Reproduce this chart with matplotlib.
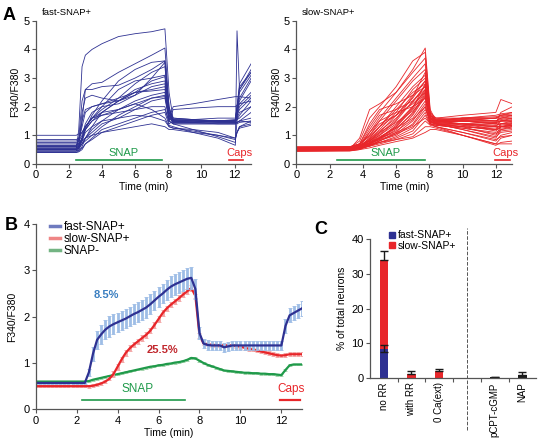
import numpy as np
import matplotlib
matplotlib.use('Agg')
import matplotlib.pyplot as plt
from matplotlib.lines import Line2D

plt.rcParams['font.family'] = ['Liberation Sans', 'DejaVu Sans']
plt.rcParams['axes.linewidth'] = 0.9
plt.rcParams['axes.edgecolor'] = '#555555'
plt.rcParams['xtick.color'] = '#555555'
plt.rcParams['ytick.color'] = '#555555'
plt.rcParams['xtick.labelcolor'] = 'black'
plt.rcParams['ytick.labelcolor'] = 'black'
plt.rcParams['xtick.major.size'] = 3
plt.rcParams['ytick.major.size'] = 3

BLUE, RED, GREEN = '#2e3192', '#e8262a', '#1f9a4a'

# ---------------- Panel A: single-cell traces ----------------
# fast-SNAP+ cells, values at knot times
fast_knots = [0, 2.45, 2.6, 2.8, 3.0, 3.4, 4.0, 5.0, 6.0, 7.0, 7.8, 8.05, 8.3, 9.5, 11.0, 12.05, 12.15, 12.3, 13.0]
fast_cells = [
    [0.50, 0.50, 1.2, 3.4, 3.8, 4.0, 4.2, 4.45, 4.55, 4.62, 4.72, 2.5, 1.55, 1.55, 1.5, 1.45, 1.45, 1.5, 1.45],
    [0.45, 0.45, 0.6, 1.5, 2.6, 2.8, 2.85, 3.2, 3.5, 3.8, 4.05, 2.0, 1.5, 1.5, 1.5, 1.5, 2.0, 2.8, 3.5],
    [0.55, 0.55, 0.9, 2.2, 2.6, 2.6, 2.7, 2.75, 3.0, 3.3, 3.6, 2.0, 1.45, 1.45, 1.5, 1.5, 2.0, 2.7, 3.2],
    [0.60, 0.60, 0.7, 1.8, 2.3, 2.4, 2.3, 2.2, 2.4, 3.0, 3.55, 1.8, 1.5, 1.5, 1.5, 1.55, 2.0, 2.5, 3.1],
    [0.65, 0.65, 0.8, 1.5, 1.9, 2.0, 2.1, 2.3, 2.8, 3.2, 3.4, 1.9, 1.6, 1.55, 1.6, 1.6, 1.9, 2.3, 3.0],
    [1.00, 1.00, 1.05, 1.1, 1.3, 1.6, 2.0, 2.6, 2.9, 3.0, 3.1, 1.7, 1.5, 1.5, 1.5, 1.5, 1.8, 2.2, 2.9],
    [0.40, 0.40, 0.45, 0.6, 0.9, 1.3, 1.8, 2.2, 2.6, 2.8, 2.9, 1.8, 1.6, 1.55, 1.5, 1.5, 1.8, 2.1, 2.5],
    [0.75, 0.75, 0.8, 1.0, 1.4, 1.8, 2.0, 2.1, 2.4, 2.7, 2.8, 1.6, 1.45, 1.45, 1.45, 1.45, 1.7, 1.9, 2.3],
    [0.55, 0.55, 0.6, 0.9, 1.2, 1.5, 1.8, 2.2, 2.5, 2.6, 2.7, 1.7, 1.4, 1.4, 1.4, 1.4, 1.55, 1.7, 2.2],
    [0.85, 0.85, 0.9, 1.1, 1.3, 1.6, 1.9, 2.3, 2.5, 2.55, 2.6, 1.6, 1.5, 1.45, 1.5, 1.5, 1.55, 1.6, 2.0],
    [0.45, 0.45, 0.5, 0.7, 0.9, 1.2, 1.5, 1.9, 2.2, 2.4, 2.5, 1.5, 1.4, 1.4, 1.4, 1.4, 1.45, 1.5, 1.8],
    [0.50, 0.50, 0.55, 0.7, 0.8, 1.0, 1.3, 1.7, 2.0, 2.3, 2.4, 1.7, 1.5, 1.5, 1.45, 1.45, 1.45, 1.5, 1.6],
    [0.70, 0.70, 0.7, 0.9, 1.2, 1.5, 1.7, 1.9, 2.1, 2.3, 2.35, 1.6, 2.0, 2.1, 2.25, 2.35, 2.35, 2.35, 2.3],
    [0.60, 0.60, 0.62, 0.7, 0.9, 1.1, 1.4, 1.6, 1.9, 2.2, 2.3, 1.5, 1.9, 1.95, 2.0, 2.0, 2.05, 2.1, 2.2],
    [0.50, 0.50, 0.55, 0.9, 1.3, 1.6, 1.7, 1.8, 1.9, 2.0, 2.0, 1.4, 1.5, 1.45, 1.4, 1.4, 1.4, 1.45, 1.5],
    [0.40, 0.40, 0.42, 0.5, 0.7, 0.9, 1.2, 1.4, 1.6, 1.8, 1.9, 1.5, 1.4, 1.2, 0.95, 0.75, 1.5, 2.6, 3.3],
    [0.45, 0.45, 0.47, 0.55, 0.7, 0.85, 1.1, 1.3, 1.5, 1.7, 1.8, 1.35, 1.3, 1.1, 0.9, 0.65, 4.65, 2.6, 3.2],
    [0.55, 0.55, 0.6, 0.8, 1.1, 1.3, 1.5, 1.6, 1.7, 1.65, 1.5, 1.3, 1.25, 1.2, 1.1, 0.9, 1.1, 1.3, 1.5],
    [0.60, 0.60, 0.65, 0.9, 1.3, 1.6, 1.8, 1.9, 2.1, 1.9, 1.6, 1.3, 1.25, 1.15, 1.0, 0.85, 1.1, 1.3, 1.4],
    [0.65, 0.65, 0.7, 0.8, 0.9, 1.0, 1.1, 1.2, 1.3, 1.4, 1.3, 1.2, 1.2, 1.1, 1.0, 0.9, 1.1, 1.25, 1.35],
    [0.50, 0.50, 0.55, 0.8, 1.2, 1.7, 2.2, 2.9, 3.3, 3.55, 3.6, 1.7, 1.5, 1.5, 1.5, 1.5, 1.7, 2.0, 2.4],
    [0.80, 0.80, 0.85, 1.3, 1.8, 2.0, 2.1, 2.2, 2.5, 2.9, 3.05, 1.8, 1.55, 1.5, 1.5, 1.5, 1.6, 1.8, 2.0],
]

# slow-SNAP+ cells, values at knot times
slow_knots = [0, 3.2, 3.8, 4.4, 5.0, 6.0, 7.0, 7.75, 8.05, 8.4, 10.0, 12.0, 12.3, 13.0]
slow_cells = [
    [0.50, 0.52, 0.9, 1.9, 2.1, 2.5, 3.3, 4.05, 1.9, 1.5, 1.5, 1.4, 1.5, 1.5],
    [0.55, 0.56, 0.8, 1.6, 2.0, 2.7, 3.6, 3.9, 1.8, 1.6, 1.6, 1.5, 1.6, 1.7],
    [0.48, 0.50, 0.7, 1.3, 1.8, 2.5, 3.2, 3.7, 1.7, 1.5, 1.5, 1.4, 1.8, 2.0],
    [0.52, 0.53, 0.65, 1.1, 1.6, 2.3, 3.0, 3.5, 1.6, 1.6, 1.7, 1.8, 2.25, 2.1],
    [0.60, 0.60, 0.7, 1.0, 1.5, 2.2, 2.9, 3.3, 1.8, 1.5, 1.6, 1.6, 1.7, 1.8],
    [0.45, 0.47, 0.6, 0.9, 1.3, 2.0, 2.7, 3.1, 1.7, 1.4, 1.4, 1.3, 1.5, 1.6],
    [0.50, 0.52, 0.6, 0.85, 1.2, 1.8, 2.6, 3.0, 1.6, 1.5, 1.4, 1.2, 1.4, 1.5],
    [0.55, 0.56, 0.65, 0.8, 1.1, 1.7, 2.4, 2.9, 1.6, 1.4, 1.3, 1.0, 1.3, 1.4],
    [0.58, 0.60, 0.70, 0.95, 1.3, 1.9, 2.5, 2.8, 1.7, 1.5, 1.5, 1.5, 1.6, 1.6],
    [0.47, 0.48, 0.55, 0.75, 1.0, 1.5, 2.2, 2.7, 1.6, 1.4, 1.2, 0.9, 1.2, 1.3],
    [0.53, 0.54, 0.6, 0.8, 1.0, 1.4, 2.0, 2.6, 1.5, 1.35, 1.3, 1.2, 1.3, 1.35],
    [0.50, 0.50, 0.58, 0.7, 0.9, 1.3, 1.9, 2.5, 1.5, 1.4, 1.4, 1.35, 1.4, 1.4],
    [0.56, 0.57, 0.62, 0.72, 0.85, 1.2, 1.8, 2.45, 1.6, 1.45, 1.5, 1.6, 1.7, 1.7],
    [0.44, 0.45, 0.50, 0.65, 0.8, 1.1, 1.7, 2.35, 1.4, 1.3, 1.1, 0.8, 1.0, 1.1],
    [0.52, 0.52, 0.65, 1.2, 1.7, 1.9, 2.2, 2.6, 1.6, 1.5, 1.5, 1.4, 1.4, 1.4],
    [0.49, 0.50, 0.60, 1.1, 1.5, 1.8, 2.0, 2.3, 1.7, 1.55, 1.55, 1.5, 1.5, 1.55],
    [0.57, 0.58, 0.70, 1.0, 1.4, 1.7, 2.1, 2.5, 1.5, 1.5, 1.4, 1.3, 1.3, 1.35],
    [0.54, 0.55, 0.6, 0.75, 0.95, 1.25, 1.6, 2.2, 1.5, 1.4, 1.4, 1.45, 1.5, 1.5],
    [0.46, 0.47, 0.52, 0.62, 0.8, 1.05, 1.5, 2.1, 1.4, 1.3, 1.0, 0.7, 0.9, 1.0],
    [0.51, 0.52, 0.56, 0.66, 0.82, 1.0, 1.4, 2.0, 1.45, 1.45, 1.5, 1.5, 1.55, 1.6],
    [0.59, 0.60, 0.66, 0.78, 0.9, 1.1, 1.35, 1.9, 1.5, 1.5, 1.6, 1.7, 1.75, 1.8],
    [0.48, 0.49, 0.54, 0.62, 0.75, 0.95, 1.25, 1.8, 1.4, 1.35, 1.25, 1.1, 1.2, 1.25],
    [0.53, 0.54, 0.58, 0.65, 0.75, 0.9, 1.15, 1.7, 1.4, 1.4, 1.3, 1.2, 1.25, 1.3],
    [0.50, 0.51, 0.55, 0.62, 0.7, 0.85, 1.05, 1.5, 1.35, 1.3, 1.1, 0.85, 0.95, 1.0],
    [0.55, 0.56, 0.60, 0.68, 0.75, 0.85, 0.95, 1.3, 1.3, 1.25, 1.0, 0.65, 0.75, 0.8],
    [0.45, 0.46, 0.50, 0.56, 0.65, 0.78, 0.9, 1.1, 1.2, 1.2, 1.0, 0.7, 0.7, 0.7],
    [0.52, 0.53, 0.62, 0.9, 1.3, 1.7, 2.3, 2.9, 1.6, 1.5, 1.55, 1.6, 1.65, 1.7],
    [0.50, 0.51, 0.7, 1.4, 1.9, 2.1, 2.4, 2.7, 1.7, 1.6, 1.5, 1.45, 1.5, 1.5],
    [0.56, 0.57, 0.64, 0.85, 1.15, 1.6, 2.15, 2.75, 1.55, 1.45, 1.4, 1.35, 1.4, 1.45],
    [0.48, 0.49, 0.56, 0.7, 0.9, 1.35, 2.0, 2.55, 1.5, 1.4, 1.2, 0.95, 1.1, 1.15],
    [0.54, 0.55, 0.62, 0.8, 1.05, 1.55, 2.35, 3.2, 1.7, 1.55, 1.6, 1.6, 1.6, 1.65],
    [0.51, 0.52, 0.58, 0.72, 0.92, 1.3, 1.95, 2.8, 1.6, 1.5, 1.35, 1.15, 1.3, 1.35],
    [0.47, 0.48, 0.54, 0.68, 0.88, 1.25, 1.75, 2.4, 1.5, 1.4, 1.3, 1.25, 1.35, 1.4],
    [0.57, 0.58, 0.63, 0.74, 0.9, 1.15, 1.55, 2.0, 1.45, 1.4, 1.35, 1.3, 1.3, 1.3],
    [0.50, 0.51, 0.60, 0.82, 1.1, 1.45, 1.85, 2.3, 1.55, 1.5, 1.6, 1.65, 1.7, 1.75],
    [0.53, 0.54, 0.59, 0.70, 0.85, 1.05, 1.3, 1.6, 1.4, 1.35, 1.25, 1.05, 1.15, 1.2],
]

# ---------------- Panel B: mean +/- SEM ----------------
t_mean = np.round(np.arange(0, 13.01, 0.2), 1)
fast_mean = [0.57] * 13 + [
    0.80, 1.20, 1.50, 1.62, 1.72, 1.79, 1.84, 1.88, 1.92, 1.96, 2.01, 2.06, 2.10,
    2.15, 2.20, 2.27, 2.35, 2.43, 2.50, 2.58, 2.65, 2.70, 2.74, 2.78, 2.82, 2.84,
    2.60, 1.65, 1.42, 1.39, 1.38, 1.38, 1.38, 1.34, 1.36, 1.38,
    1.38, 1.38, 1.38, 1.38, 1.38, 1.38, 1.38, 1.38, 1.38, 1.38, 1.38, 1.38,
    1.80, 2.03, 2.08, 2.13, 2.18]
fast_err = [0.03] * 13 + [0.08, 0.15] + [
    0.20, 0.21, 0.21, 0.22, 0.21, 0.20, 0.20, 0.20, 0.21, 0.21, 0.22, 0.22,
    0.22, 0.22, 0.21, 0.21, 0.21, 0.22, 0.22, 0.22, 0.22, 0.23, 0.23, 0.23,
    0.22, 0.12] + [0.10] * 20 + [0.15, 0.15, 0.15, 0.15, 0.16]
slow_mean = [0.50] * 13 + [
    0.50, 0.51, 0.53, 0.56, 0.60, 0.66, 0.76, 0.92, 1.08, 1.22, 1.32, 1.40, 1.47,
    1.54, 1.61, 1.70, 1.82, 1.95, 2.08, 2.18, 2.26, 2.33, 2.40, 2.48, 2.55, 2.62,
    2.45, 1.60, 1.42, 1.40, 1.39, 1.38, 1.38, 1.38, 1.38, 1.38,
    1.37, 1.35, 1.33, 1.31, 1.29, 1.27, 1.25, 1.23, 1.21, 1.19, 1.17, 1.16,
    1.17, 1.19, 1.19, 1.19, 1.19]
slow_err = [0.02] * 13 + [0.03] * 6 + [0.06] * 20 + [0.05, 0.05] + [0.04] * 25
neg_mean = [0.60] * 13 + [
    0.61, 0.64, 0.66, 0.68, 0.70, 0.72, 0.74, 0.76, 0.78, 0.80, 0.82, 0.84, 0.86,
    0.88, 0.90, 0.92, 0.93, 0.95, 0.96, 0.98, 0.99, 1.01, 1.02, 1.04, 1.07, 1.11,
    1.10, 1.05, 1.00, 0.96, 0.93, 0.90, 0.87, 0.84, 0.83, 0.82,
    0.81, 0.80, 0.79, 0.79, 0.78, 0.78, 0.77, 0.77, 0.76, 0.76, 0.75, 0.74,
    0.85, 0.95, 0.97, 0.97, 0.97]
neg_err = [0.02] * 66

# ---------------- Panel C: responders ----------------
conditions = ['no RR', 'with RR', '0 Ca(ext)', 'pCPT-cGMP', 'NAP']
cond_pos = [0, 1, 2, 4, 5]
fast_pct = [8.5, 0, 0, 0, 0]
slow_pct = [25.5, 1.2, 2.0, 0, 0]
other_pct = [0, 0, 0, 0.3, 0.9]
fast_pct_err = [1.0, 0, 0, 0, 0]
total_err = [2.6, 0.8, 0.6, 0.2, 1.0]

fig = plt.figure(figsize=(5.4, 4.43), dpi=100)


def style(ax):
    for s in ['top', 'right']:
        ax.spines[s].set_visible(False)
    ax.tick_params(labelsize=8, width=0.8, pad=1.5)


# A left
axA1 = fig.add_axes([0.066, 0.630, 0.399, 0.323])
for cell in fast_cells:
    axA1.plot(fast_knots, cell, color=BLUE, lw=0.6)
axA1.plot([2.45, 7.65], [0.13, 0.13], color=GREEN, lw=1.2, clip_on=False)
axA1.text(5.3, 0.22, 'SNAP', color=GREEN, fontsize=8, ha='center', va='bottom')
axA1.plot([11.65, 12.5], [0.13, 0.13], color=RED, lw=1.2, clip_on=False)
axA1.text(12.3, 0.22, 'Caps', color=RED, fontsize=8, ha='center', va='bottom')
axA1.set_xlim(0, 13); axA1.set_ylim(0, 5)
axA1.set_xticks(range(0, 13, 2)); axA1.set_yticks(range(6))
axA1.set_xlabel('Time (min)', fontsize=7.5, labelpad=1)
axA1.set_ylabel('F340/F380', fontsize=7.5, labelpad=2)
style(axA1)

# A right
axA2 = fig.add_axes([0.549, 0.630, 0.400, 0.323])
for cell in slow_cells:
    axA2.plot(slow_knots, cell, color=RED, lw=0.6)
axA2.plot([2.45, 7.75], [0.13, 0.13], color=GREEN, lw=1.2, clip_on=False)
axA2.text(5.35, 0.22, 'SNAP', color=GREEN, fontsize=8, ha='center', va='bottom')
axA2.plot([11.95, 12.85], [0.13, 0.13], color=RED, lw=1.2, clip_on=False)
axA2.text(12.55, 0.22, 'Caps', color=RED, fontsize=8, ha='center', va='bottom')
axA2.set_xlim(0, 13); axA2.set_ylim(0, 5)
axA2.set_xticks(range(0, 13, 2)); axA2.set_yticks(range(6))
axA2.set_xlabel('Time (min)', fontsize=7.5, labelpad=1)
axA2.set_ylabel('F340/F380', fontsize=7.5, labelpad=2)
style(axA2)

fig.text(0.078, 0.972, 'fast-SNAP+', fontsize=6.8, va='center')
fig.text(0.559, 0.972, 'slow-SNAP+', fontsize=6.8, va='center')

# B
axB = fig.add_axes([0.066, 0.076, 0.493, 0.418])
series = [(neg_mean, neg_err, GREEN, '#9fd3a8'),
          (slow_mean, slow_err, RED, '#f3a3a3'),
          (fast_mean, fast_err, BLUE, '#9ebde6')]
for m, e, c, ec in series:
    axB.errorbar(t_mean, m, yerr=e, fmt='none', ecolor=ec, elinewidth=2.0, capsize=1.2, capthick=0.6)
    axB.plot(t_mean, m, color=c, lw=1.6)
axB.plot([2.27, 7.3], [0.2, 0.2], color=GREEN, lw=1.2)
axB.text(5.0, 0.3, 'SNAP', color=GREEN, fontsize=8.5, ha='center', va='bottom')
axB.plot([11.92, 12.93], [0.2, 0.2], color=RED, lw=1.6, clip_on=False)
axB.text(12.45, 0.3, 'Caps', color=RED, fontsize=8.5, ha='center', va='bottom')
axB.text(3.45, 2.47, '8.5%', color='#3a7fc1', fontsize=8, fontweight='bold', ha='center', va='center')
axB.text(6.2, 1.28, '25.5%', color='#c1272d', fontsize=8, fontweight='bold', ha='center', va='center')
axB.set_xlim(0, 13); axB.set_ylim(0, 4)
axB.set_xticks(range(0, 13, 2)); axB.set_yticks(range(5))
axB.set_xlabel('Time (min)', fontsize=7.5, labelpad=2)
axB.set_ylabel('F340/F380', fontsize=7.5, labelpad=4)
style(axB)
handles = [Line2D([], [], color='#6f7bbf', lw=2.5),
           Line2D([], [], color='#ef8686', lw=2.5),
           Line2D([], [], color='#73b483', lw=2.5)]
axB.legend(handles, ['fast-SNAP+', 'slow-SNAP+', 'SNAP-'], loc='upper left',
           bbox_to_anchor=(0.03, 1.05), frameon=False, fontsize=8.5,
           handlelength=0.9, handletextpad=0.3, labelspacing=0.0, borderpad=0)

# C
axC = fig.add_axes([0.685, 0.146, 0.308, 0.3145])
axC.bar(cond_pos, fast_pct, width=0.3, color='#2e3192')
axC.bar(cond_pos, slow_pct, width=0.3, bottom=fast_pct, color='#e8262a')
axC.bar(cond_pos, other_pct, width=0.3, color='#1a1a1a')
tops = [f + s + o for f, s, o in zip(fast_pct, slow_pct, other_pct)]
axC.errorbar(cond_pos, tops, yerr=[[0] * 5, total_err], fmt='none', ecolor='#1a1a1a',
             elinewidth=1.0, capsize=3, capthick=1.0)
axC.errorbar(cond_pos[:1], fast_pct[:1], yerr=fast_pct_err[:1], fmt='none', ecolor='#1a1a1a',
             elinewidth=1.0, capsize=3, capthick=1.0)
axC.plot([3, 3], [-14.8, 43.2], ls='--', color='#555555', lw=0.7, clip_on=False)
axC.set_xlim(-0.5, 5.5); axC.set_ylim(0, 40)
axC.set_yticks(range(0, 41, 10))
axC.set_xticks(cond_pos)
axC.set_xticklabels(conditions, rotation=90)
axC.set_xticks([0.5, 1.5, 2.5, 3.5, 4.5], minor=True)
style(axC)
axC.tick_params(axis='x', which='major', length=0, pad=3, labelsize=7)
axC.tick_params(axis='x', which='minor', length=3, width=0.8)
axC.set_ylabel('% of total neurons', fontsize=7.5, labelpad=3)
handlesC = [Line2D([], [], marker='s', ls='', color='#2e3192', markersize=4),
            Line2D([], [], marker='s', ls='', color='#e8262a', markersize=4)]
axC.legend(handlesC, ['fast-SNAP+', 'slow-SNAP+'], loc='upper left', bbox_to_anchor=(0.08, 1.1),
           frameon=False, fontsize=7.5, handlelength=0.6, handletextpad=0.3,
           labelspacing=0.05, borderpad=0)

fig.text(0.005, 0.985, 'A', fontsize=13, fontweight='bold', va='top')
fig.text(0.008, 0.51, 'B', fontsize=13, fontweight='bold', va='top')
fig.text(0.582, 0.50, 'C', fontsize=13, fontweight='bold', va='top')

fig.savefig('out.png', dpi=100)
